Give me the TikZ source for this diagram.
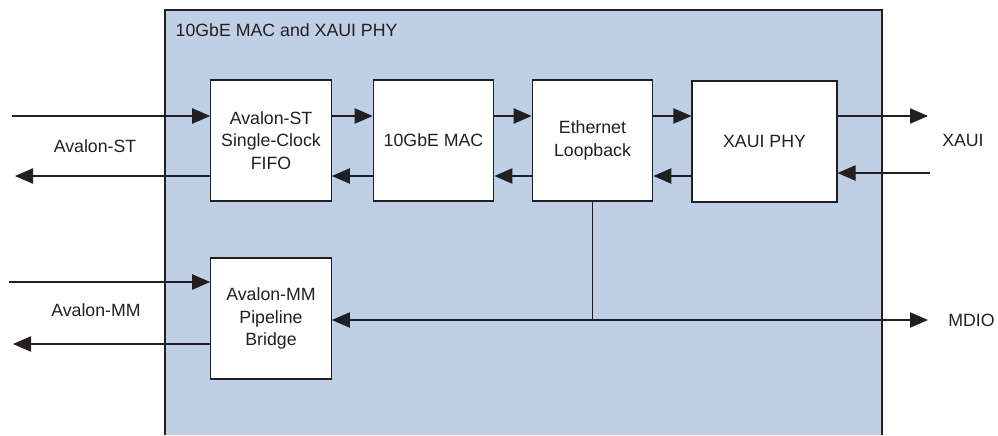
\documentclass[tikz,border=0pt]{standalone}
\usepackage{fontspec}
\setmainfont{Liberation Sans}
\usetikzlibrary{arrows.meta}
\definecolor{corefill}{RGB}{191,207,229}
\definecolor{ink}{RGB}{35,31,32}

\begin{document}
\begin{tikzpicture}[x=0.75pt, y=-0.75pt,
  font=\fontsize{13.3}{17}\selectfont, text=ink,
  blk/.style={draw=ink, fill=white, line width=0.8pt, inner sep=0pt,
    minimum width=90.5pt, minimum height=90.75pt, align=center},
  sig/.style={draw=ink, line width=0.8pt, -{Triangle[length=13.5pt,width=11.5pt]}}]

\useasboundingbox (0,0) rectangle (998,435);

% ===== 外枠 =====
\fill[corefill] (165,10) rectangle (882,435);
\draw[ink, line width=0.8pt] (165,435) -- (165,10) -- (882,10) -- (882,435);
\node[anchor=west] (core) at (171,30) {10GbE MAC and XAUI PHY};

% ===== ブロック =====
\node[blk] (fifo) at (271,140.5) {Avalon-ST\\Single-Clock\\FIFO};
\node[blk] (mac) at (433.5,140.5) {10GbE MAC};
\node[blk] (loop) at (592.5,140.5) {Ethernet\\Loopback};
\node[blk, minimum width=108.75pt] (phy) at (764.5,141.5) {XAUI PHY};
\node[blk] (bridge) at (271,318.5) {Avalon-MM\\Pipeline\\Bridge};

% 端点
\coordinate (stIn) at (12,116);
\coordinate (stOut) at (15,176);
\coordinate (xauiOut) at (928,116);
\coordinate (xauiIn) at (930,173);
\coordinate (mmIn) at (9,282);
\coordinate (mmOut) at (13,344);
\coordinate (mdio) at (928,320);
\coordinate (tap) at (loop.south |- mdio);

% ===== 矢印 =====
\draw[sig] (stIn) -- (stIn -| fifo.west);
\draw[sig] (fifo.west |- stOut) -- (stOut);
\draw[sig] (fifo.east |- stIn) -- (mac.west |- stIn);
\draw[sig] (mac.west |- stOut) -- (fifo.east |- stOut);
\draw[sig] (mac.east |- stIn) -- (loop.west |- stIn);
\draw[sig] (loop.west |- stOut) -- (mac.east |- stOut);
\draw[sig] (loop.east |- stIn) -- (phy.west |- stIn);
\draw[sig] (phy.west |- stOut) -- (loop.east |- stOut);
\draw[sig] (phy.east |- xauiOut) -- (xauiOut);
\draw[sig] (xauiIn) -- (phy.east |- xauiIn);

\draw[sig] (mmIn) -- (mmIn -| bridge.west);
\draw[sig] (bridge.west |- mmOut) -- (mmOut);
\draw[ink, line width=0.8pt] (loop.south) -- (tap);
\draw[sig] (tap) -- (tap -| bridge.east);
\draw[sig] (tap) -- (mdio);

% ===== ラベル =====
\node (stLabel) at (95,146) {Avalon-ST};
\node (mmLabel) at (96,310) {Avalon-MM};
\node[anchor=west, inner sep=0pt] (xauiLabel) at (942,140) {XAUI};
\node[anchor=west, inner sep=0pt] (mdioLabel) at (948,320) {MDIO};

\end{tikzpicture}
\end{document}
